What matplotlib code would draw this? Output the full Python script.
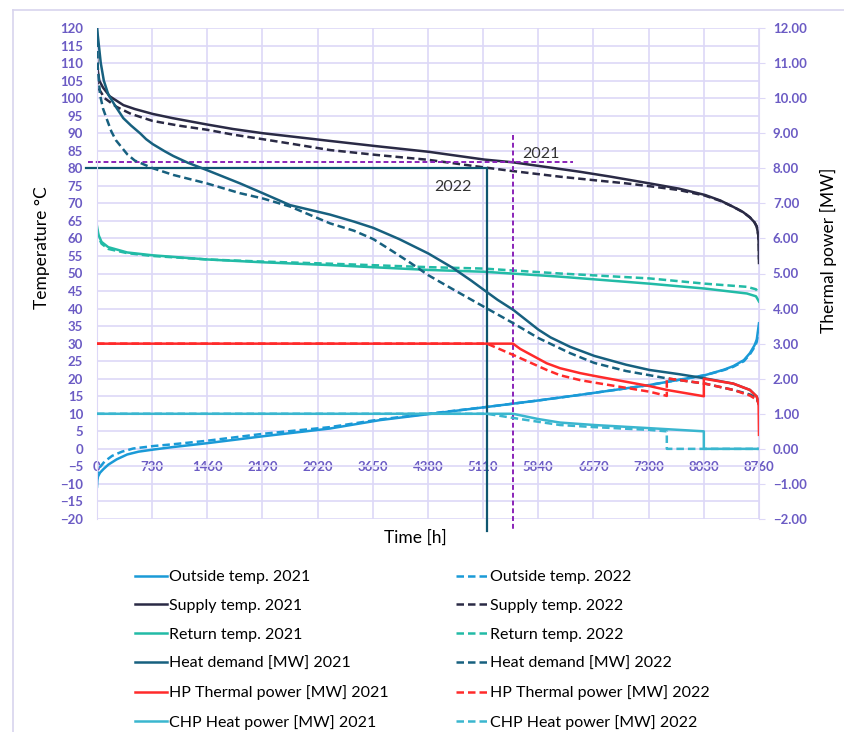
import matplotlib.pyplot as plt
from matplotlib.lines import Line2D

plt.rcParams['font.family'] = ['Lato', 'DejaVu Sans']

# ---- data (hours of the year, sorted duration curves) ----
h_out21 = [0, 5, 13, 40, 84, 150, 260, 400, 550, 746, 1000, 1452, 2200, 3083, 3745, 4500, 5178, 5840, 6392, 7310, 8045, 8300, 8420, 8560, 8640, 8700, 8730, 8760]
outside_2021 = [-10.8, -9.0, -7.9, -6.8, -5.8, -4.5, -3.0, -1.6, -0.8, -0.2, 0.5, 1.6, 3.6, 5.8, 8.2, 10.2, 12.0, 13.8, 15.4, 18.2, 21.0, 22.6, 23.6, 25.3, 27.3, 29.5, 31.1, 35.8]
h_out22 = [0, 5, 40, 100, 200, 330, 480, 746, 1000, 1452, 2200, 3083, 3745, 4500, 5178, 5840, 6392, 7310, 8045, 8300, 8420, 8560, 8640, 8700, 8730, 8760]
outside_2022 = [-8.5, -7.0, -5.2, -3.6, -2.0, -0.8, 0.1, 0.8, 1.3, 2.3, 4.3, 6.2, 8.4, 10.3, 12.0, 13.8, 15.4, 18.2, 21.0, 22.5, 23.4, 25.0, 27.0, 29.0, 30.5, 34.5]

h_sup21 = [0, 10, 30, 80, 170, 350, 500, 737, 1000, 1452, 1800, 2193, 2600, 3083, 3700, 4390, 5121, 5505, 6000, 6392, 6800, 7310, 7700, 8045, 8250, 8420, 8550, 8640, 8700, 8730, 8750, 8757, 8760]
supply_2021 = [112, 108, 105, 103, 100.5, 98.0, 96.9, 95.5, 94.3, 92.5, 91.2, 90.0, 89.0, 87.8, 86.3, 84.7, 82.5, 81.7, 80.2, 79.0, 77.6, 75.7, 74.2, 72.4, 70.8, 69.0, 67.5, 66.0, 64.6, 63.4, 61.0, 58.0, 53.0]
h_sup22 = [0, 10, 30, 100, 260, 450, 737, 1100, 1452, 1800, 2193, 2600, 3083, 3700, 4390, 5000, 5465, 6127, 6581, 7000, 7310, 7700, 8045, 8250, 8420, 8550, 8640, 8700, 8730, 8750, 8757, 8760]
supply_2022 = [106, 104, 102.5, 100, 97.5, 95.5, 93.5, 92.1, 91.0, 89.6, 88.3, 86.9, 85.2, 83.8, 82.4, 80.6, 79.3, 77.6, 76.6, 75.7, 74.9, 73.8, 72.2, 70.7, 69.0, 67.5, 66.0, 64.6, 63.4, 61.0, 58.0, 54.0]

h_ret = [0, 20, 60, 150, 400, 730, 1460, 2190, 3083, 4400, 5121, 6127, 7310, 8045, 8600, 8720, 8760]
return_2021 = [63.5, 61.0, 59.0, 57.5, 56.0, 55.2, 54.0, 53.2, 52.4, 51.0, 50.5, 49.1, 47.1, 45.7, 44.3, 43.5, 42.0]
return_2022 = [62.5, 60.5, 58.5, 57.0, 55.8, 55.0, 54.0, 53.4, 52.8, 51.8, 51.4, 50.0, 48.6, 47.1, 46.2, 45.5, 44.3]

h_hd21 = [0, 20, 50, 90, 150, 250, 348, 450, 569, 650, 737, 900, 1010, 1200, 1452, 1892, 2193, 2554, 3083, 3400, 3657, 4000, 4385, 4700, 4950, 5121, 5300, 5510, 5840, 6000, 6259, 6581, 7000, 7310, 7700, 8045, 8420, 8640, 8730, 8760]
heat_2021 = [12.0, 11.6, 11.0, 10.5, 10.1, 9.75, 9.43, 9.22, 9.00, 8.83, 8.69, 8.48, 8.35, 8.16, 7.95, 7.57, 7.29, 6.95, 6.68, 6.48, 6.30, 5.98, 5.57, 5.17, 4.80, 4.53, 4.25, 3.96, 3.40, 3.18, 2.91, 2.65, 2.40, 2.25, 2.13, 2.01, 1.86, 1.68, 1.49, 1.28]
h_hd22 = [0, 10, 40, 80, 130, 190, 250, 400, 500, 740, 1010, 1452, 1892, 2193, 2554, 3083, 3400, 3657, 3900, 4150, 4385, 4750, 5121, 5510, 5840, 6259, 6581, 7000, 7310, 7540, 8045, 8420, 8640, 8730, 8760]
heat_2022 = [12.0, 10.9, 10.1, 9.7, 9.4, 9.05, 8.8, 8.4, 8.22, 8.0, 7.81, 7.57, 7.29, 7.14, 6.91, 6.43, 6.22, 5.98, 5.65, 5.30, 4.95, 4.50, 4.05, 3.58, 3.16, 2.73, 2.45, 2.22, 2.10, 2.01, 1.86, 1.68, 1.55, 1.45, 1.25]

h_hp21 = [0, 5505, 5600, 5951, 6127, 6392, 6581, 7310, 7540, 8030, 8030, 8420, 8640, 8730, 8755, 8760]
hp_2021 = [3.0, 3.0, 2.85, 2.44, 2.30, 2.16, 2.08, 1.79, 1.68, 1.50, 2.00, 1.86, 1.68, 1.49, 1.30, 0.40]
h_hp22 = [0, 5160, 5505, 5951, 6127, 6392, 6581, 7310, 7540, 7540, 8045, 8420, 8640, 8730, 8760]
hp_2022 = [3.0, 3.0, 2.68, 2.25, 2.10, 1.96, 1.89, 1.63, 1.51, 2.01, 1.86, 1.68, 1.52, 1.40, 1.28]

h_chp21 = [0, 5505, 5840, 6127, 6581, 7310, 8030, 8030, 8760]
chp_2021 = [1.0, 1.0, 0.85, 0.75, 0.68, 0.59, 0.50, 0.0, 0.0]
h_chp22 = [0, 5160, 5600, 6127, 6581, 7310, 7540, 7540, 8760]
chp_2022 = [1.0, 1.0, 0.85, 0.68, 0.62, 0.54, 0.50, 0.0, 0.0]

x_ticks = list(range(0, 8761, 730))

# colours
c_out = '#1a9ad7'
c_sup = '#2a2a45'
c_ret = '#22bba6'
c_hd = '#17607f'
c_hp = '#ff2a2a'
c_chp = '#3ab6cf'
c_purple = '#8a22b8'
c_tick = '#6b5bc4'
c_grid = '#ddd8f7'

lw = 1.8
dash = (0, (3, 1.6))

fig = plt.figure(figsize=(8.45, 7.32), dpi=100)
ax = fig.add_axes([97 / 845, 1 - 519 / 732, 662 / 845, 491 / 732])
ax2 = ax.twinx()

ax.set_xlim(0, 8760)
ax.set_ylim(-20, 120)
ax2.set_ylim(-2, 12)
ax.set_yticks(range(-20, 121, 5))
ax2.set_yticks(range(-2, 13, 1))
ax2.set_yticklabels(['%.2f' % v if v >= 0 else '\u2212%.2f' % -v for v in range(-2, 13)])
ax.set_yticklabels([str(v) if v >= 0 else '\u2212' + str(-v) for v in range(-20, 121, 5)])
ax.set_xticks(x_ticks)
ax.set_xticklabels([str(v) for v in x_ticks])

ax.grid(True, color=c_grid, lw=1.2)
ax.set_axisbelow(True)
ax.spines['bottom'].set_position(('data', 0))
for s in ['top', 'bottom']:
    ax.spines[s].set_visible(False)
    ax2.spines[s].set_visible(False)
ax.spines['left'].set_color(c_grid)
ax.spines['right'].set_visible(False)
ax2.spines['left'].set_visible(False)
ax2.spines['right'].set_color(c_grid)

ax.tick_params(axis='y', length=0, pad=10, labelsize=9.5, labelcolor=c_tick)
ax.tick_params(axis='x', length=0, pad=9, labelsize=9.5, labelcolor=c_tick)
ax2.tick_params(axis='y', length=4, color=c_grid, pad=6, labelsize=9.5, labelcolor=c_tick)
for t in ax.get_yticklabels() + ax.get_xticklabels() + ax2.get_yticklabels():
    t.set_fontweight('bold')

# temperature curves (left axis)
l_out21, = ax.plot(h_out21, outside_2021, color=c_out, lw=lw)
l_out22, = ax.plot(h_out22, outside_2022, color=c_out, lw=lw, ls=dash)
l_sup21, = ax.plot(h_sup21, supply_2021, color=c_sup, lw=lw)
l_sup22, = ax.plot(h_sup22, supply_2022, color=c_sup, lw=lw, ls=dash)
l_ret21, = ax.plot(h_ret, return_2021, color=c_ret, lw=lw)
l_ret22, = ax.plot(h_ret, return_2022, color=c_ret, lw=lw, ls=dash)

# reference lines
ax.plot([-120, 6300], [81.7, 81.7], color=c_purple, lw=1.4, ls=(0, (2.5, 1.5)), clip_on=False)
ax.plot([5510, 5510], [89.5, -23.2], color=c_purple, lw=1.4, ls=(0, (2.5, 1.5)), clip_on=False)
ax.plot([-145, 5157, 5157], [80, 80, -23.4], color='#0f5670', lw=1.6, clip_on=False)
ax.text(5620, 82.8, '2021', fontsize=11.5, color='#333333')
ax.text(4460, 73.5, '2022', fontsize=11.5, color='#333333')

# power curves (right axis)
l_hd21, = ax2.plot(h_hd21, heat_2021, color=c_hd, lw=lw)
l_hd22, = ax2.plot(h_hd22, heat_2022, color=c_hd, lw=lw, ls=dash)
l_chp21, = ax2.plot(h_chp21, chp_2021, color=c_chp, lw=lw)
l_chp22, = ax2.plot(h_chp22, chp_2022, color=c_chp, lw=lw, ls=dash)
l_hp21, = ax2.plot(h_hp21, hp_2021, color=c_hp, lw=lw)
l_hp22, = ax2.plot(h_hp22, hp_2022, color=c_hp, lw=lw, ls=dash)

fig.text(42 / 845, 1 - 248 / 732, 'Temperature \u00b0C', rotation=90, ha='center', va='center', fontsize=12.5)
fig.text(828 / 845, 1 - 250 / 732, 'Thermal power [MW]', rotation=90, ha='center', va='center', fontsize=12.5)
fig.text(415 / 845, 1 - 538 / 732, 'Time [h]', ha='center', va='center', fontsize=12.5)

# outer frame of the chart area
fig.add_artist(Line2D([13 / 845, 1], [1 - 10 / 732] * 2, color='#d8d4ee', lw=1.2, transform=fig.transFigure))
fig.add_artist(Line2D([13 / 845] * 2, [0, 1 - 10 / 732], color='#d8d4ee', lw=1.2, transform=fig.transFigure))

handles = [l_out21, l_sup21, l_ret21, l_hd21, l_hp21, l_chp21,
           l_out22, l_sup22, l_ret22, l_hd22, l_hp22, l_chp22]
labels = ['Outside temp. 2021', 'Supply temp. 2021', 'Return temp. 2021',
          'Heat demand [MW] 2021', 'HP Thermal power [MW] 2021', 'CHP Heat power [MW] 2021',
          'Outside temp. 2022', 'Supply temp. 2022', 'Return temp. 2022',
          'Heat demand [MW] 2022', 'HP Thermal power [MW] 2022', 'CHP Heat power [MW] 2022']
fig.legend(handles, labels, ncol=2, loc='upper left', bbox_to_anchor=(135 / 845, 1 - 570 / 732),
           frameon=False, fontsize=11.5, handlelength=2.0, handletextpad=0.15,
           columnspacing=4.2, labelspacing=0.92, borderpad=0, borderaxespad=0)

fig.savefig('out.png', dpi=100)
